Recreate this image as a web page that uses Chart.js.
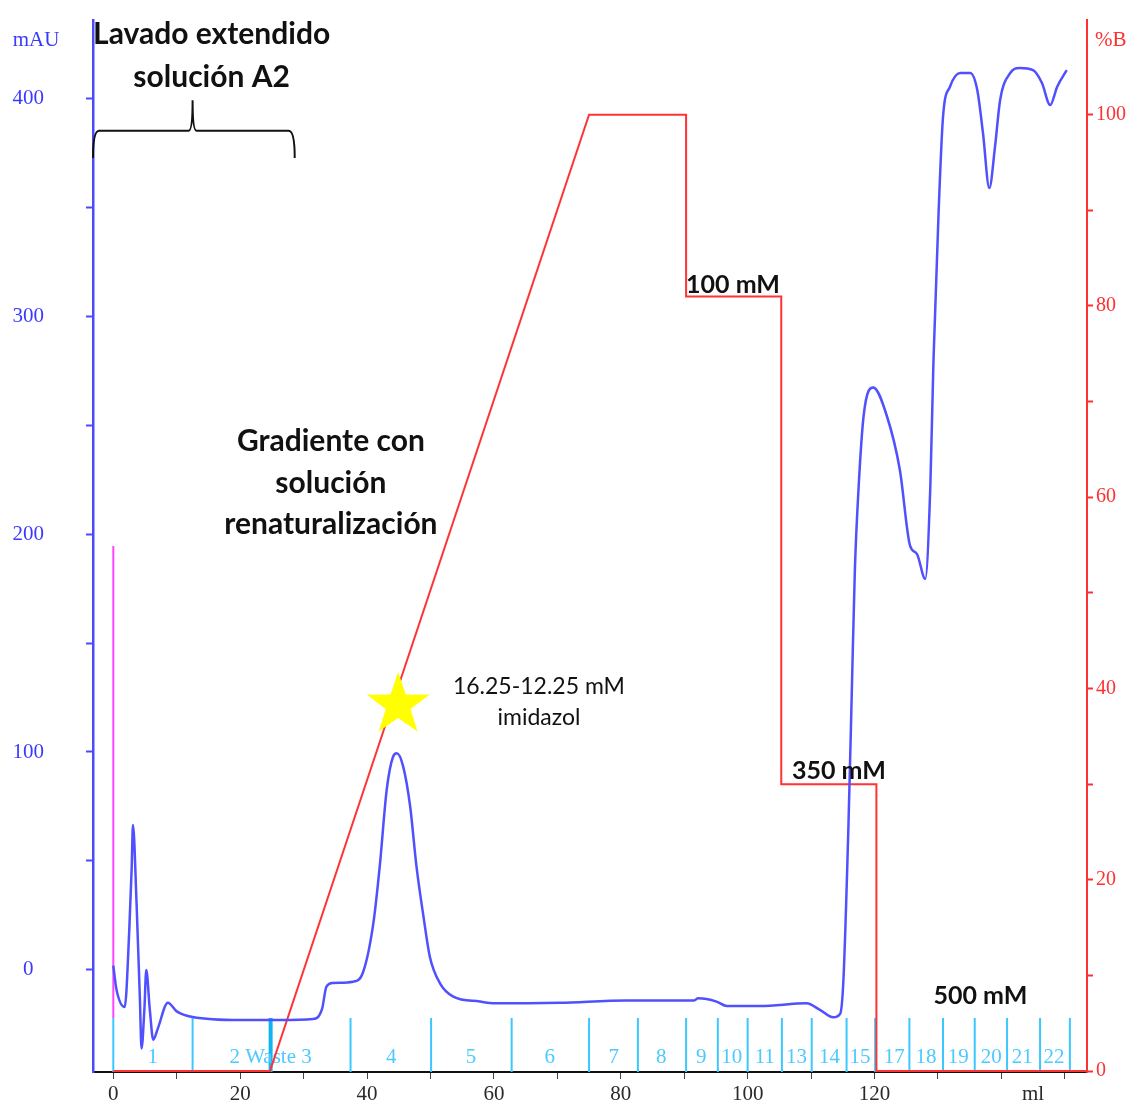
<!DOCTYPE html>
<html>
<head>
<meta charset="utf-8">
<script src="https://cdn.jsdelivr.net/npm/chart.js@4.4.1/dist/chart.umd.min.js"></script>
<style>
  html, body { margin: 0; padding: 0; background: #fff; }
  #wrap { position: relative; width: 1128px; height: 1104px; }
</style>
</head>
<body>
<div id="wrap"><canvas id="chart"></canvas></div>
<script>
'use strict';
// UV (mAU) vs volumen (ml)
const uvMl = [0, 0.5, 1.8, 2.5, 2.9, 3.1, 3.65, 4.2, 4.45, 4.9,
    5.2, 5.75, 6.3, 7.0, 8.6, 10, 12.5, 20, 26.3, 31.5,
    32.9, 33.6, 34.6, 37.8, 39.4, 41, 42, 43.1, 44.1, 44.7,
    45.7, 46.8, 47.8, 48.9, 49.9, 51.5, 53.6, 57.8, 59.9, 70.4,
    80.9, 91.5, 92.2, 95.1, 96.7, 102, 109.3, 111.4, 113.5, 114.6,
    115.1, 115.9, 116.4, 116.9, 117.5, 118.3, 119.8, 121.9, 124, 125.6,
    126.7, 128, 128.8, 129.3, 130.1, 130.8, 131.9, 133.5, 135.1, 136.2,
    137.1, 138.1, 139, 139.8, 141.4, 142.9, 145, 146.4, 147.7, 148.8,
    150.3];
const uvMau = [2, -9, -17, 17, 47, 66.5, 32, -14, -36, -18,
    0, -18, -32, -27, -15, -19, -21.6, -23, -23, -22.5,
    -18, -7.6, -6, -5.4, -0.8, 21.5, 47.4, 82.6, 97.8, 99.4,
    93.3, 75, 47.4, 24.5, 6.1, -6.1, -12.2, -14.5, -15.3, -15,
    -14, -14, -13, -14.5, -16.5, -16.5, -15.3, -18.3, -21.7, -20,
    -4.6, 67, 125, 183, 221.7, 254.6, 267.2, 254.6, 229.4, 194.7,
    190.8, 179.4, 221.7, 279.8, 347.2, 391.3, 405.2, 411.5, 411.5, 403.7,
    384, 358.7, 377.7, 399, 411.5, 413.8, 412.8, 406.9, 396.8, 405.2,
    412.8];

// gradiente %B
const gradMl = [0, 24.7, 75.0, 90.3, 90.3, 105.3, 105.3, 120.3, 120.3, 153.5];
const gradB = [0, 0, 100, 100, 81, 81, 30, 30, 0, 0];

// marca de inyeccion
const injMl = [0, 0];
const injMau = [-22, 194.5];

// fracciones
const fractionEdges = [0, 12.5, 24.8, 37.4, 50.1, 62.8, 75.0, 82.7, 90.3, 95.3, 100.0,
    105.4, 110.1, 115.6, 120.1, 125.5, 130.8, 135.8, 140.9, 146.1, 150.8];
const wasteMl = 24.8;
const fractionLabels = ['1', '2 Waste 3', '4', '5', '6', '7', '8', '9', '10', '11', '13',
    '14', '15', '17', '18', '19', '20', '21', '22'];
const fractionLabelMl = [6.2, 24.8, 43.8, 56.4, 68.8, 78.9, 86.4, 92.7, 97.5, 102.7, 107.7,
    112.9, 117.7, 123.1, 128.1, 133.2, 138.4, 143.3, 148.3];

// ejes
const xTickValues = [0, 10, 20, 30, 40, 50, 60, 70, 80, 90, 100, 110, 120, 130, 140, 145, 150];
const xTickLabels = ['0', '', '20', '', '40', '', '60', '', '80', '', '100', '', '120', '', '', 'ml', ''];
const yTickValues = [0, 50, 100, 150, 200, 250, 300, 350, 400];
const yTickLabels = ['0', '', '100', '', '200', '', '300', '', '400'];
const bTickValues = [0, 10, 20, 30, 40, 50, 60, 70, 80, 90, 100];
const bTickLabels = ['0', '', '20', '', '40', '', '60', '', '80', '', '100'];

const serif = '"Liberation Serif", "Times New Roman", serif';
const sans = 'Lato, "Open Sans", sans-serif';

function drawStar(ctx, cx, cy, rOut, rIn) {
    ctx.beginPath();
    for (let i = 0; i < 10; i++) {
        const r = i % 2 === 0 ? rOut : rIn;
        const a = -Math.PI / 2 + i * Math.PI / 5;
        const px = cx + r * Math.cos(a);
        const py = cy + r * Math.sin(a);
        if (i === 0) ctx.moveTo(px, py); else ctx.lineTo(px, py);
    }
    ctx.closePath();
    ctx.fill();
}

const anotaciones = {
    id: 'anotaciones',
    beforeDatasetsDraw(chart) {
        const {ctx, chartArea, scales: {x, y}} = chart;
        ctx.save();
        const top = y.getPixelForValue(-22);
        fractionEdges.forEach(ml => {
            const px = x.getPixelForValue(ml);
            ctx.strokeStyle = ml === wasteMl ? '#10b4f0' : '#3cc8ff';
            ctx.lineWidth = ml === wasteMl ? 4 : 2;
            ctx.beginPath();
            ctx.moveTo(px, top);
            ctx.lineTo(px, chartArea.bottom);
            ctx.stroke();
        });
        ctx.font = '21px ' + serif;
        ctx.fillStyle = '#4ccaff';
        ctx.textAlign = 'center';
        ctx.textBaseline = 'middle';
        fractionLabels.forEach((t, i) => {
            ctx.fillText(t, x.getPixelForValue(fractionLabelMl[i]), chartArea.bottom - 15);
        });
        ctx.restore();
    },
    afterDatasetsDraw(chart) {
        const {ctx, scales: {x, y, y1}} = chart;
        ctx.save();

        // llave
        const bl = x.getPixelForValue(-3.2), br = x.getPixelForValue(28.6), bc = x.getPixelForValue(12.5);
        const by = y.getPixelForValue(385), bTip = y.getPixelForValue(372.5), bTop = y.getPixelForValue(399);
        ctx.strokeStyle = '#111';
        ctx.lineWidth = 2;
        ctx.beginPath();
        ctx.moveTo(bl, bTip);
        ctx.quadraticCurveTo(bl, by, bl + 6, by);
        ctx.lineTo(bc - 4, by);
        ctx.quadraticCurveTo(bc, by, bc, bTop);
        ctx.quadraticCurveTo(bc, by, bc + 4, by);
        ctx.lineTo(br - 6, by);
        ctx.quadraticCurveTo(br, by, br, bTip);
        ctx.stroke();

        // estrella
        ctx.fillStyle = '#ffff00';
        drawStar(ctx, x.getPixelForValue(44.9), y.getPixelForValue(121.6), 33, 13);

        ctx.fillStyle = '#111';
        ctx.textBaseline = 'middle';
        ctx.textAlign = 'center';
        ctx.font = 'bold 30px ' + sans;
        ctx.fillText('Lavado extendido', x.getPixelForValue(15.5), y.getPixelForValue(429));
        ctx.fillText('solución A2', x.getPixelForValue(15.5), y.getPixelForValue(409.6));
        ctx.fillText('Gradiente con', x.getPixelForValue(34.3), y.getPixelForValue(242.7));
        ctx.fillText('solución', x.getPixelForValue(34.3), y.getPixelForValue(223.4));
        ctx.fillText('renaturalización', x.getPixelForValue(34.3), y.getPixelForValue(204.6));

        ctx.font = '23px ' + sans;
        ctx.fillText('16.25-12.25 mM', x.getPixelForValue(67.1), y.getPixelForValue(129.8));
        ctx.fillText('imidazol', x.getPixelForValue(67.1), y.getPixelForValue(116));

        ctx.font = 'bold 25px ' + sans;
        ctx.textAlign = 'left';
        ctx.fillText('100 mM', x.getPixelForValue(90.3), y1.getPixelForValue(82.2));
        ctx.fillText('350 mM', x.getPixelForValue(107), y1.getPixelForValue(31.4));
        ctx.textAlign = 'center';
        ctx.fillText('500 mM', x.getPixelForValue(136.7), y1.getPixelForValue(7.9));
        ctx.restore();
    },
    afterDraw(chart) {
        const {ctx, scales: {y, y1}} = chart;
        ctx.save();
        ctx.font = '21px ' + serif;
        ctx.textBaseline = 'middle';
        ctx.textAlign = 'center';
        ctx.fillStyle = '#3a3aff';
        ctx.fillText('mAU', y.left + 36, 40);
        ctx.textAlign = 'left';
        ctx.fillStyle = '#ff3030';
        ctx.fillText('%B', y1.left + 8, 40);
        ctx.restore();
    }
};

function fixVertical(width) {
    return s => {
        s.width = width;
        s.paddingTop = 0;
        s.paddingBottom = 0;
    };
}

const chart = new Chart(document.getElementById('chart'), {
    type: 'line',
    data: {
        datasets: [{
            label: 'UV',
            data: uvMl.map((v, i) => ({x: v, y: uvMau[i]})),
            yAxisID: 'y',
            borderColor: '#5050ff',
            borderWidth: 2.5,
            pointRadius: 0,
            cubicInterpolationMode: 'monotone',
            order: 1
        }, {
            label: '%B',
            data: gradMl.map((v, i) => ({x: v, y: gradB[i]})),
            yAxisID: 'y1',
            borderColor: '#ff3333',
            borderWidth: 2,
            pointRadius: 0,
            tension: 0,
            order: 2
        }, {
            label: 'Inyección',
            data: injMl.map((v, i) => ({x: v, y: injMau[i]})),
            yAxisID: 'y',
            borderColor: '#ff44ff',
            borderWidth: 2,
            pointRadius: 0,
            order: 3
        }]
    },
    options: {
        responsive: true,
        maintainAspectRatio: false,
        animation: false,
        layout: {padding: {top: 20, left: 0, right: 0, bottom: 0}},
        plugins: {legend: {display: false}, tooltip: {enabled: false}},
        scales: {
            x: {
                type: 'linear',
                min: -3.2,
                max: 153.5,
                afterBuildTicks: s => { s.ticks = xTickValues.map(v => ({value: v})); },
                afterFit: s => { s.height = 32; s.paddingLeft = 0; s.paddingRight = 0; },
                border: {color: '#111', width: 2},
                grid: {
                    drawOnChartArea: false,
                    tickLength: 7,
                    tickColor: c => (c.tick && c.tick.value === 145) ? 'rgba(0,0,0,0)' : '#444'
                },
                ticks: {
                    autoSkip: false,
                    maxRotation: 0,
                    padding: 3,
                    color: '#2a2a2a',
                    font: {family: serif, size: 21},
                    callback: (v, i) => xTickLabels[i]
                }
            },
            y: {
                type: 'linear',
                position: 'left',
                min: -46.8,
                max: 435.8,
                afterBuildTicks: s => { s.ticks = yTickValues.map(v => ({value: v})); },
                afterFit: fixVertical(93),
                border: {color: '#4a4aff', width: 2.5},
                grid: {drawOnChartArea: false, tickLength: 7, tickColor: '#4a4aff', tickWidth: 2},
                ticks: {
                    crossAlign: 'center',
                    padding: 42,
                    color: '#3a3aff',
                    font: {family: serif, size: 21},
                    callback: (v, i) => yTickLabels[i]
                }
            },
            y1: {
                type: 'linear',
                position: 'right',
                min: -0.1,
                max: 109.9,
                afterBuildTicks: s => { s.ticks = bTickValues.map(v => ({value: v})); },
                afterFit: fixVertical(41),
                border: {color: '#ff3030', width: 2},
                grid: {drawOnChartArea: false, tickLength: 6, tickColor: '#ff3030', tickWidth: 2},
                ticks: {
                    padding: 3,
                    color: '#ff3030',
                    font: {family: serif, size: 20},
                    callback: (v, i) => bTickLabels[i]
                }
            }
        }
    },
    plugins: [anotaciones]
});
</script>
</body>
</html>
